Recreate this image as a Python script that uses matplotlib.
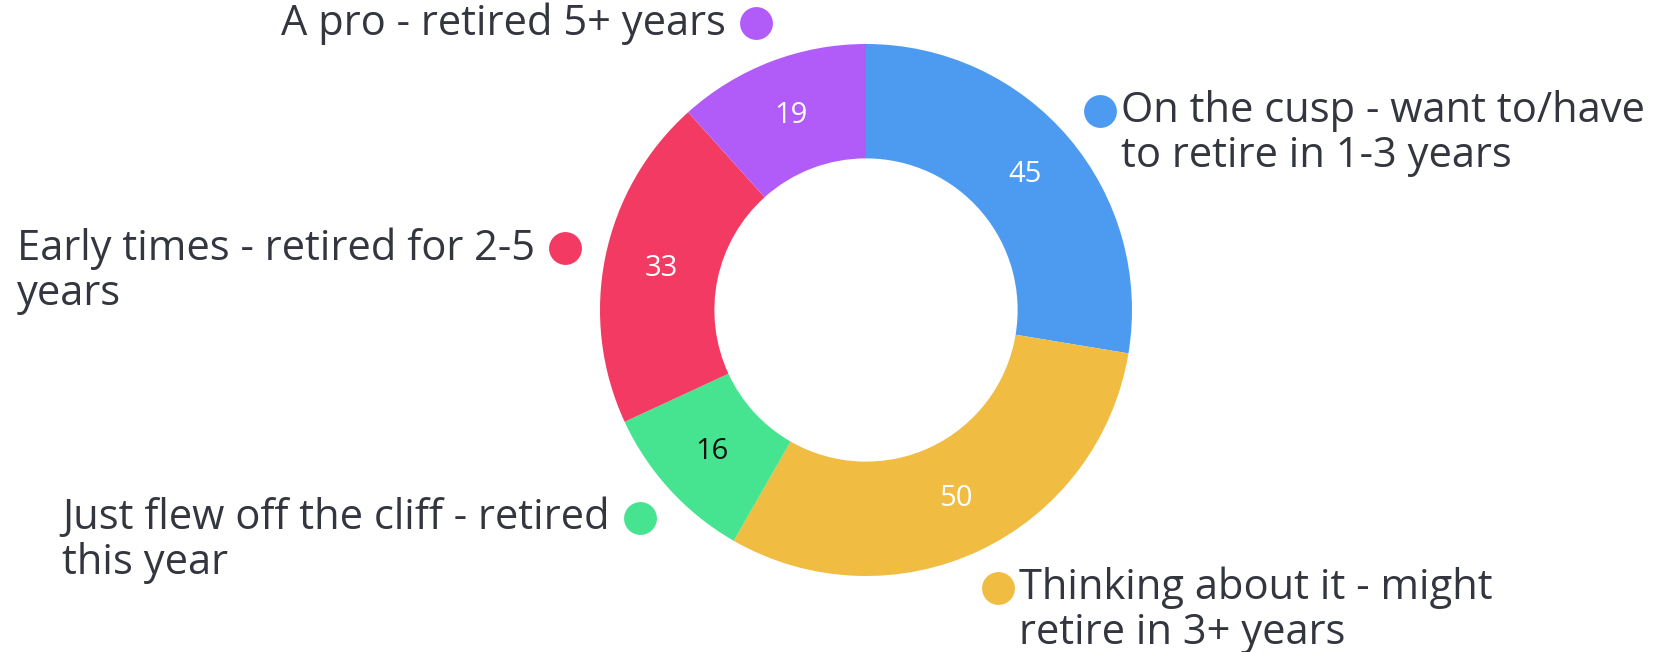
import numpy as np
import matplotlib.pyplot as plt
from matplotlib.transforms import offset_copy

# slices, clockwise from 12 o'clock
LABELS = [
    "On the cusp - want to/have\nto retire in 1-3 years",
    "Thinking about it - might\nretire in 3+ years",
    "Just flew off the cliff - retired\nthis year",
    "Early times - retired for 2-5\nyears",
    "A pro - retired 5+ years",
]
VALUES = [45, 50, 16, 33, 19]
COLORS = ["#4d9bf0", "#f0bc41", "#46e391", "#f23a62", "#b15cf9"]
VALUE_COLORS = ["white", "white", "#111111", "white", "white"]

TEXT_COLOR = "#33363e"
plt.rcParams['font.family'] = ['Open Sans', 'DejaVu Sans']

W, H = 1673, 652
CX, CY, R = 866, 310, 266      # pie centre and radius in pixels

fig = plt.figure(figsize=(W / 100, H / 100), dpi=100)
ax = fig.add_axes([0, 0, 1, 1])

wedges, _ = ax.pie(VALUES, colors=COLORS, startangle=90, counterclock=False,
                   radius=1.0, wedgeprops=dict(width=0.43, linewidth=0))
ax.set_xlim(-CX / R, (W - CX) / R)
ax.set_ylim(-(H - CY) / R, CY / R)
ax.set_aspect('auto')
ax.axis('off')

total = sum(VALUES)
start = 90.0
for lab, val, col, vcol in zip(LABELS, VALUES, COLORS, VALUE_COLORS):
    mid = np.deg2rad(start - val / total * 180.0)
    start -= val / total * 360.0
    c, s = np.cos(mid), np.sin(mid)

    # value inside the ring
    ax.text(0.785 * c, 0.785 * s, str(val), color=vcol, fontsize=21,
            ha='center', va='center', fontweight=500)

    # outside legend dot + label
    dx, dy = 1.155 * c, 1.155 * s
    ax.scatter([dx], [dy], s=560, color=col, zorder=3, linewidths=0)
    right = c > 0
    tr = offset_copy(ax.transData, fig=fig, x=(21 if right else -30),
                     y=21, units='dots')
    ax.text(dx, dy, lab, transform=tr, color=TEXT_COLOR, fontsize=30,
            ha='left' if right else 'right', va='top', fontweight=500,
            multialignment='left', linespacing=1.1)

fig.savefig("out.png", dpi=100, facecolor="white")
